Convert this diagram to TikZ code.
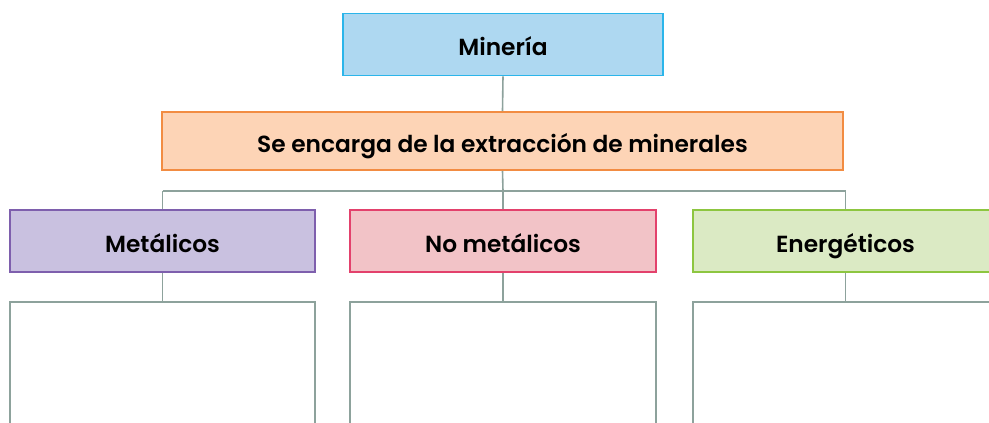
\documentclass[tikz,border=0pt]{standalone}
\usepackage{fontspec}
\setmainfont{Poppins}[BoldFont={Poppins SemiBold}]
\definecolor{linec}{HTML}{8DA29C}
\definecolor{bluefill}{HTML}{AED8F1}
\definecolor{bluedraw}{HTML}{2BB5EA}
\definecolor{orfill}{HTML}{FDD4B6}
\definecolor{ordraw}{HTML}{F28C42}
\definecolor{pufill}{HTML}{C9C1E0}
\definecolor{pudraw}{HTML}{7E5FAD}
\definecolor{pkfill}{HTML}{F2C3C7}
\definecolor{pkdraw}{HTML}{E3416C}
\definecolor{grfill}{HTML}{DBEAC4}
\definecolor{grdraw}{HTML}{8DC640}
\tikzset{
  x=1pt,y=1pt,
  boxa/.style={draw, line width=1.6pt, inner sep=0pt, text height=22pt, text depth=0pt,
    font=\fontsize{23.3}{27}\selectfont\bfseries, text=black},
  conn/.style={draw=linec, line width=1.6pt},
  openbox/.style={draw=linec, line width=1.6pt}
}
\begin{document}
\begin{tikzpicture}
\useasboundingbox (0,0) rectangle (989,-423);
\clip (0,0) rectangle (989,-423);
\node[boxa, fill=bluefill, draw=bluedraw, minimum width=320, minimum height=62] (top) at (503,-44.5) {Minería};
\node[boxa, fill=orfill, draw=ordraw, minimum width=681, minimum height=58] (mid) at (502.5,-141) {Se encarga de la extracción de minerales};
\node[boxa, fill=pufill, draw=pudraw, minimum width=305, minimum height=62] (m1) at (162.5,-241) {Metálicos};
\node[boxa, fill=pkfill, draw=pkdraw, minimum width=306, minimum height=62] (m2) at (503,-241) {No metálicos};
\node[boxa, fill=grfill, draw=grdraw, minimum width=305, minimum height=62] (m3) at (845.5,-241) {Energéticos};
\coordinate (hub) at (503,-191);
\coordinate (h1) at (162.5,-191);
\coordinate (h3) at (845.5,-191);
\coordinate (l1) at (162.5,-302);
\coordinate (l2) at (503,-302);
\coordinate (l3) at (845.5,-302);
\draw[conn] (top.south) -- (mid.north);
\draw[conn] (mid.south) -- (hub);
\draw[conn] (h1) -- (h3);
\draw[conn] (h1) -- (m1.north);
\draw[conn] (hub) -- (m2.north);
\draw[conn] (h3) -- (m3.north);
\draw[conn] (m1.south) -- (l1);
\draw[conn] (m2.south) -- (l2);
\draw[conn] (m3.south) -- (l3);
\draw[openbox] (10,-430) -- (10,-302) -- (315,-302) -- (315,-430);
\draw[openbox] (350,-430) -- (350,-302) -- (656,-302) -- (656,-430);
\draw[openbox] (693,-430) -- (693,-302) -- (998,-302) -- (998,-430);
\end{tikzpicture}
\end{document}
